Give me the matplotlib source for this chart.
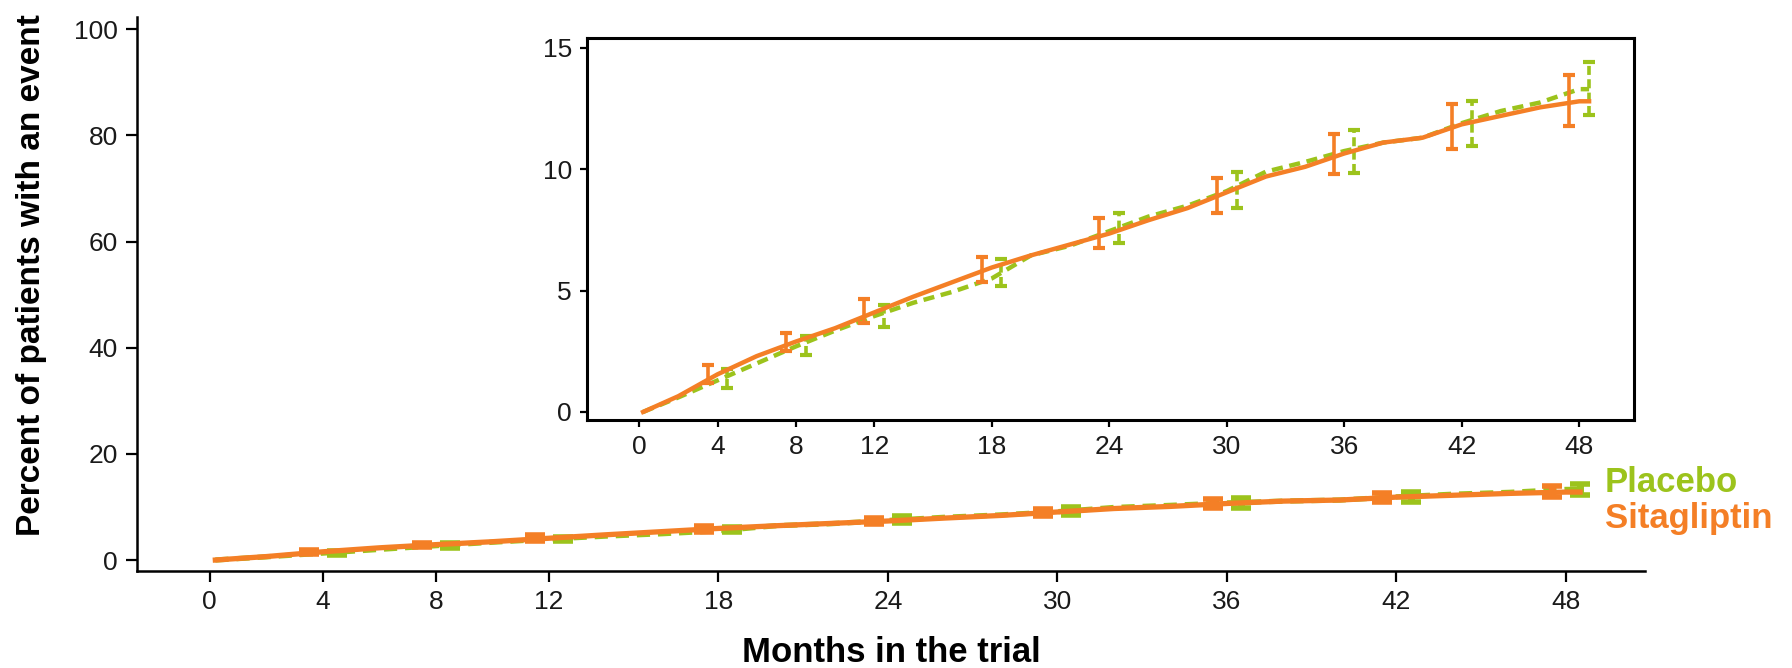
"""Cumulative event curves, sitagliptin vs placebo, with a zoomed inset."""

import matplotlib

matplotlib.use("Agg")
import matplotlib.pyplot as plt

# Curve values (percent of patients with an event)
months = [0.2, 2, 4, 6, 8, 10, 12, 14, 16, 18, 20, 22, 24, 26, 28, 30,
          32, 34, 36, 38, 40, 42, 44, 46, 48, 48.5]
sitagliptin = [0.0, 0.65, 1.55, 2.3, 2.9, 3.45, 4.1, 4.75, 5.35, 5.95, 6.45,
               6.9, 7.35, 7.9, 8.4, 9.05, 9.7, 10.1, 10.65, 11.1, 11.3,
               11.85, 12.2, 12.55, 12.8, 12.8]
placebo = [0.0, 0.6, 1.3, 2.0, 2.7, 3.35, 3.95, 4.5, 4.95, 5.5, 6.45, 6.85,
           7.45, 8.05, 8.5, 9.1, 9.9, 10.3, 10.75, 11.1, 11.3, 11.9, 12.4,
           12.75, 13.3, 13.3]

# Confidence intervals (offset half a month either side of the tick)
sita_ci_x = [3.5, 7.5, 11.5, 17.5, 23.5, 29.5, 35.5, 41.5, 47.5]
sita_ci_mid = [1.55, 2.85, 4.1, 5.9, 7.3, 8.9, 10.6, 11.7, 12.8]
sita_ci_lo = [1.2, 2.5, 3.65, 5.35, 6.75, 8.2, 9.8, 10.85, 11.8]
sita_ci_hi = [1.95, 3.25, 4.65, 6.4, 8.0, 9.65, 11.45, 12.7, 13.9]

plac_ci_x = [4.5, 8.5, 12.5, 18.5, 24.5, 30.5, 36.5, 42.5, 48.5]
plac_ci_mid = [1.35, 2.75, 3.95, 5.75, 7.55, 9.1, 10.7, 11.85, 13.3]
plac_ci_lo = [1.0, 2.35, 3.5, 5.2, 6.95, 8.4, 9.85, 10.95, 12.25]
plac_ci_hi = [1.75, 3.15, 4.4, 6.3, 8.2, 9.9, 11.6, 12.8, 14.4]

x_ticks = [0, 4, 8, 12, 18, 24, 30, 36, 42, 48]
main_y_ticks = [0, 20, 40, 60, 80, 100]
inset_y_ticks = [0, 5, 10, 15]

GREEN = "#9cc31c"
ORANGE = "#f47f26"
TEXT = "#1a1a1a"

plt.rcParams["font.family"] = ["Liberation Sans", "DejaVu Sans"]


def draw_curves(ax, lw, capsize, capthick, elw):
    ax.plot(months, placebo, color=GREEN, lw=lw, ls=(0, (2.5, 1.5)),
            solid_capstyle="butt", zorder=2)
    eb = ax.errorbar(plac_ci_x, plac_ci_mid,
                     yerr=[[m - lo for m, lo in zip(plac_ci_mid, plac_ci_lo)],
                           [hi - m for m, hi in zip(plac_ci_mid, plac_ci_hi)]],
                     fmt="none", ecolor=GREEN, elinewidth=elw, capsize=capsize,
                     capthick=capthick, zorder=2)
    eb[2][0].set_linestyle((0, (2.5, 1.2)))
    ax.plot(months, sitagliptin, color=ORANGE, lw=lw, zorder=3)
    ax.errorbar(sita_ci_x, sita_ci_mid,
                yerr=[[m - lo for m, lo in zip(sita_ci_mid, sita_ci_lo)],
                      [hi - m for m, hi in zip(sita_ci_mid, sita_ci_hi)]],
                fmt="none", ecolor=ORANGE, elinewidth=elw, capsize=capsize,
                capthick=capthick, zorder=3)


def style_axis(ax, spine_w, tick_len):
    ax.set_xticks(x_ticks)
    ax.tick_params(direction="out", length=tick_len, width=1.6,
                   labelsize=19, labelcolor=TEXT, pad=6)
    for spine in ax.spines.values():
        spine.set_linewidth(spine_w)


def main():
    fig = plt.figure(figsize=(17.92, 6.68), dpi=100)

    # main axes: open frame, 0-100 %
    ax = fig.add_axes([0.0765, 0.1452, 0.8415, 0.8293])
    draw_curves(ax, lw=3.8, capsize=7, capthick=4, elw=5)
    ax.set_xlim(-2.57, 50.8)
    ax.set_ylim(-2.07, 102.3)
    ax.set_yticks(main_y_ticks)
    style_axis(ax, 1.8, 8)
    ax.spines["top"].set_visible(False)
    ax.spines["right"].set_visible(False)

    # zoomed inset: boxed, 0-15 %
    inset = fig.add_axes([0.3276, 0.3713, 0.5843, 0.5719])
    draw_curves(inset, lw=3.2, capsize=4.5, capthick=3, elw=2.6)
    inset.set_xlim(-2.66, 50.8)
    inset.set_ylim(-0.33, 15.41)
    inset.set_yticks(inset_y_ticks)
    style_axis(inset, 2.2, 5)

    fig.text(32 / 1792, 1 - 275 / 668, "Percent of patients with an event",
             rotation=90, ha="center", va="center", fontsize=24,
             fontweight="bold", color="black")
    fig.text(891 / 1792, 1 - 662 / 668, "Months in the trial", ha="center",
             va="baseline", fontsize=25, fontweight="bold", color="black")
    fig.text(1605 / 1792, 1 - 492 / 668, "Placebo", ha="left", va="baseline",
             fontsize=25, fontweight="bold", color=GREEN)
    fig.text(1605 / 1792, 1 - 528 / 668, "Sitagliptin", ha="left",
             va="baseline", fontsize=25, fontweight="bold", color=ORANGE)

    fig.savefig("out.png", dpi=100)
    plt.close(fig)


if __name__ == "__main__":
    main()
